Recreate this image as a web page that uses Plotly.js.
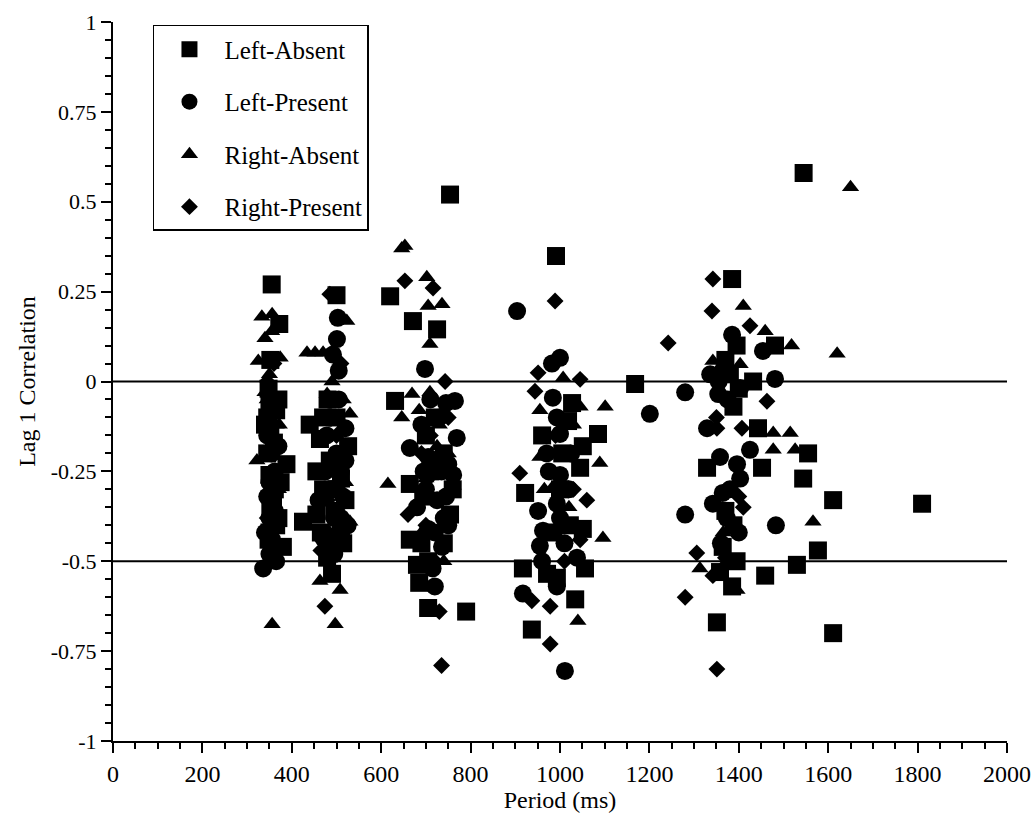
<!DOCTYPE html>
<html>
<head>
<meta charset="utf-8">
<script src="https://cdn.plot.ly/plotly-3.0.1.min.js"></script>
<style>html,body{margin:0;padding:0;background:#fff}#chart{width:1033px;height:814px}</style>
</head>
<body>
<div id="chart"></div>
<script>
// Left-Absent (squares)
const leftAbsentX = [355,372,352,348,350,345,352,360,388,350,362,352,370,350,380,355,345,358,348,365,340,375,370,365,
  500,440,463,526,485,510,500,520,455,425,495,479,490,510,500,470,515,480,455,465,470,
  754,620,671,725,631,664,694,754,710,690,664,680,685,705,790,740,720,740,700,760,725,705,
  991,1027,1018,1085,1051,1045,922,1022,1051,917,971,993,1056,1034,937,1000,960,985,1005,
  1168,1385,1395,1432,1481,1388,1443,1555,1452,1329,1544,1611,1388,1577,1364,1358,1459,1530,1385,1351,1611,1545,1810,1400,1370,1370,1395,1380];
const leftAbsentY = [0.27,0.16,0.06,-0.02,-0.06,-0.10,-0.14,-0.17,-0.23,-0.26,-0.30,-0.35,-0.38,-0.42,-0.46,-0.47,-0.20,-0.33,-0.44,-0.08,-0.12,-0.28,-0.05,-0.40,
  0.24,-0.12,-0.16,-0.18,-0.22,-0.27,-0.30,-0.33,-0.37,-0.39,-0.36,-0.49,-0.535,-0.42,-0.10,-0.30,-0.45,-0.05,-0.25,-0.42,-0.10,
  0.52,0.237,0.168,0.145,-0.054,-0.285,-0.32,-0.37,-0.25,-0.45,-0.44,-0.51,-0.56,-0.63,-0.64,-0.20,-0.10,-0.45,-0.15,-0.30,-0.22,-0.50,
  0.349,-0.06,-0.11,-0.146,-0.18,-0.24,-0.31,-0.40,-0.41,-0.52,-0.535,-0.546,-0.52,-0.606,-0.69,-0.30,-0.15,-0.42,-0.20,
  -0.007,0.285,0.10,0.0,0.10,-0.07,-0.13,-0.20,-0.24,-0.24,-0.27,-0.33,-0.40,-0.47,-0.46,-0.53,-0.54,-0.51,-0.57,-0.67,-0.70,0.58,-0.34,-0.02,0.06,-0.36,-0.50,0.02];

// Left-Present (circles)
const leftPresentX = [345,350,356,336,362,355,358,350,345,362,350,340,370,365,
  503,501,492,505,470,490,510,480,520,500,495,515,485,505,475,510,495,520,460,478,525,
  698,765,769,664,705,761,736,705,725,720,745,690,740,680,715,750,730,700,745,720,735,710,695,750,
  904,982,1000,984,993,1000,1000,951,993,962,955,1000,1038,993,917,1011,970,1020,975,1010,960,1025,
  1201,1280,1385,1454,1336,1364,1481,1354,1403,1329,1425,1396,1403,1358,1364,1342,1373,1280,1483,1375,1355,1380,1400,1360];
const leftPresentY = [-0.32,-0.38,-0.44,-0.52,-0.25,-0.20,-0.08,-0.48,-0.15,-0.36,-0.28,-0.42,-0.18,-0.50,
  0.177,0.118,0.075,0.03,-0.435,-0.30,-0.25,-0.45,-0.13,-0.20,-0.38,-0.32,-0.10,-0.05,-0.25,-0.38,-0.48,-0.22,-0.33,-0.15,-0.40,
  0.035,-0.054,-0.157,-0.185,-0.21,-0.26,-0.46,-0.41,-0.33,-0.57,-0.06,-0.12,-0.38,-0.35,-0.52,-0.23,-0.10,-0.30,-0.32,-0.42,-0.25,-0.05,-0.25,-0.40,
  0.196,0.05,0.066,-0.045,-0.10,-0.146,-0.26,-0.36,-0.34,-0.415,-0.457,-0.38,-0.49,-0.57,-0.59,-0.805,-0.20,-0.30,-0.25,-0.45,-0.50,-0.20,
  -0.09,-0.03,0.13,0.085,0.02,0.03,0.007,-0.035,-0.018,-0.13,-0.19,-0.23,-0.27,-0.21,-0.31,-0.34,-0.38,-0.37,-0.40,-0.05,0.0,-0.30,-0.42,-0.45];

// Right-Absent (triangles)
const rightAbsentX = [333,356,340,325,374,350,345,365,322,360,356,370,355,345,360,352,340,372,
  523,434,452,470,479,530,530,508,463,497,500,515,490,520,485,
  646,653,702,705,736,709,669,709,646,615,761,730,700,750,725,690,740,685,
  1007,955,1045,1101,1089,955,1096,1040,1000,980,1030,1020,965,
  1410,1459,1518,1620,1650,1342,1403,1477,1515,1477,1526,1566,1313,1373,1396,1390,1365];
const rightAbsentY = [0.18,0.187,0.12,0.057,0.066,0.02,-0.05,-0.12,-0.22,-0.35,-0.675,-0.30,0.14,-0.10,-0.17,-0.45,-0.03,-0.12,
  0.168,0.08,0.08,0.08,-0.035,-0.09,-0.39,-0.58,-0.555,-0.675,-0.15,-0.05,0.0,-0.28,-0.42,
  0.37,0.377,0.29,0.21,0.215,0.104,-0.035,-0.03,-0.10,-0.285,-0.29,-0.12,-0.27,-0.20,-0.18,-0.42,-0.50,-0.08,
  0.01,-0.08,-0.07,-0.07,-0.227,-0.21,-0.435,-0.666,-0.20,-0.30,-0.12,-0.35,-0.30,
  0.21,0.14,0.10,0.077,0.54,0.057,0.048,-0.143,-0.143,-0.19,-0.19,-0.39,-0.52,-0.50,-0.58,-0.03,-0.42];

// Right-Present (diamonds)
const rightPresentX = [350,360,345,355,355,345,360,
  485,474,515,505,495,500,510,480,465,
  653,716,743,660,690,700,720,730,735,710,750,705,
  989,951,1045,944,910,1045,937,978,978,1030,1010,990,1060,
  1242,1342,1340,1425,1463,1351,1407,1410,1306,1342,1280,1351,1370,1400,1350];
const rightPresentY = [-0.07,-0.12,0.0,-0.28,-0.20,-0.38,0.05,
  0.243,-0.625,-0.22,-0.35,-0.05,-0.15,0.05,-0.33,-0.47,
  0.28,0.26,0.0,-0.37,-0.20,-0.40,-0.50,-0.64,-0.79,-0.15,-0.10,-0.27,
  0.224,0.024,0.006,-0.027,-0.255,-0.44,-0.61,-0.625,-0.73,-0.30,-0.50,-0.15,-0.33,
  0.107,0.285,0.196,0.155,-0.055,-0.13,-0.13,-0.35,-0.477,-0.54,-0.60,-0.80,-0.49,-0.32,-0.10];

const seriesNames = ['Left-Absent','Left-Present','Right-Absent','Right-Present'];
const yTickVals = [1,0.75,0.5,0.25,0,-0.25,-0.5,-0.75,-1];
const yTickText = ['1','0.75','0.5','0.25','0','-0.25','-0.5','-0.75','-1'];
const refLines = [0,-0.5];

const fam = '"Liberation Serif", "Times New Roman", serif';
const fnt = s => ({family:fam, size:s, color:'#000'});
const mk = (sym, sz) => ({symbol:sym, size:sz, color:'#000', line:{width:0}});

const traces = [
  {x:leftAbsentX, y:leftAbsentY, name:seriesNames[0], marker:mk('square',18), legendgroup:'a'},
  {x:leftPresentX, y:leftPresentY, name:seriesNames[1], marker:mk('circle',18), legendgroup:'b'},
  {x:rightAbsentX, y:rightAbsentY, name:seriesNames[2], marker:mk('triangle-up',15), legendgroup:'c'},
  {x:rightPresentX, y:rightPresentY, name:seriesNames[3], marker:mk('diamond',13), legendgroup:'d'}
].map(t => Object.assign({type:'scatter', mode:'markers', cliponaxis:false}, t));

const layout = {
  width:1033, height:814,
  margin:{l:113, r:26, t:22, b:73, autoexpand:false},
  paper_bgcolor:'#fff', plot_bgcolor:'#fff',
  font:fnt(24),
  showlegend:true,
  legend:{x:0.0447, y:0.996, xanchor:'left', yanchor:'top', bordercolor:'#000', borderwidth:1.5,
    bgcolor:'#fff', font:fnt(25), tracegroupgap:17,
    traceorder:'grouped', itemwidth:60},
  xaxis:{range:[0,2000], dtick:200, tick0:0, showgrid:false, zeroline:false,
    showline:true, linecolor:'#000', linewidth:2, ticks:'outside', ticklen:10, tickwidth:2, tickcolor:'#000',
    minor:{dtick:50, ticks:'outside', ticklen:6, tickwidth:2, tickcolor:'#000', showgrid:false},
    tickfont:fnt(24),
    title:{text:'Period (ms)', font:fnt(24), standoff:4}},
  yaxis:{range:[-1,1], tickvals:yTickVals, ticktext:yTickText, showgrid:false, zeroline:false,
    showline:true, linecolor:'#000', linewidth:2, ticks:'outside', ticklen:10, tickwidth:2, tickcolor:'#000',
    minor:{dtick:0.05, tick0:0, ticks:'outside', ticklen:6, tickwidth:2, tickcolor:'#000', showgrid:false},
    tickfont:fnt(22),
    title:{text:'Lag 1 Correlation', font:fnt(24), standoff:8}},
  shapes: refLines.map(v => ({type:'line', xref:'x', yref:'y', x0:0, x1:2000, y0:v, y1:v,
    line:{color:'#000', width:2}, layer:'below'}))
};

Plotly.newPlot('chart', traces, layout, {displayModeBar:false, staticPlot:true});
</script>
</body>
</html>
